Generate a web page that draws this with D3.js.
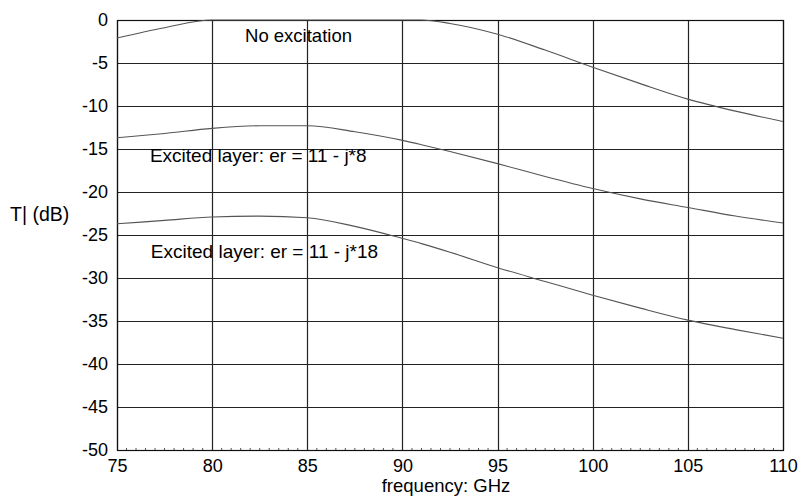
<!DOCTYPE html>
<html>
<head>
<meta charset="utf-8">
<script src="https://cdn.jsdelivr.net/npm/d3@7"></script>
<style>
  html, body { margin: 0; padding: 0; background: #fff; }
  svg { display: block; font-family: "Liberation Sans", Arial, sans-serif; }
</style>
</head>
<body>
<svg id="chart" width="800" height="500"></svg>
<script>
// Frequency samples (GHz)
const freq = [75, 77.5, 80, 82.5, 85, 87.5, 90, 91, 92.5, 95, 97.5, 100, 102.5, 105, 107.5, 110];

// |T| in dB for each case
const noExcitation = [-2.1, -0.9, 0, 0, 0, 0, 0, 0, -0.4, -1.65, -3.5, -5.5, -7.4, -9.2, -10.6, -11.8];
const excitedEr8   = [-13.7, -13.2, -12.6, -12.3, -12.3, -13.0, -14.0, -14.5, -15.3, -16.7, -18.2, -19.6, -20.8, -21.8, -22.8, -23.6];
const excitedEr18  = [-23.7, -23.3, -22.9, -22.8, -23.0, -24.0, -25.4, -26.0, -27.0, -28.8, -30.4, -32.0, -33.5, -34.9, -36.0, -37.0];

// Axis ticks
const xTicks = [75, 80, 85, 90, 95, 100, 105, 110];
const yTicks = [0, -5, -10, -15, -20, -25, -30, -35, -40, -45, -50];

// Curve annotations: text, font size and the (frequency, dB) anchor of its left baseline
const labels = ["No excitation", "Excited layer: er = 11 - j*8", "Excited layer: er = 11 - j*18"];
const labelSize = [18.5, 19, 19];
const labelFreq = [81.73, 76.73, 76.78];
const labelDb = [-2.5, -16.5, -27.7];

const svg = d3.select("#chart");
const plotLeft = 117, plotRight = 783, plotTop = 20, plotBottom = 450;

const x = d3.scaleLinear().domain([75, 110]).range([plotLeft, plotRight]);
const y = d3.scaleLinear().domain([-50, 0]).range([plotBottom, plotTop]);

const g = svg.append("g");

// Minor ticks along the bottom edge (every 0.5 GHz)
g.append("g").selectAll("line")
  .data(d3.range(75, 110.01, 0.5).filter(v => v % 5 !== 0))
  .join("line")
  .attr("x1", d => x(d)).attr("x2", d => x(d))
  .attr("y1", plotBottom).attr("y2", plotBottom - 2)
  .attr("stroke", "#555").attr("stroke-width", 1);

// Grid lines
g.append("g").selectAll("line")
  .data(xTicks)
  .join("line")
  .attr("x1", d => Math.round(x(d)) + 0.5).attr("x2", d => Math.round(x(d)) + 0.5)
  .attr("y1", plotTop).attr("y2", plotBottom)
  .attr("stroke", "#222").attr("stroke-width", 1.2);

g.append("g").selectAll("line")
  .data(yTicks)
  .join("line")
  .attr("x1", plotLeft).attr("x2", plotRight)
  .attr("y1", d => Math.round(y(d)) + 0.5).attr("y2", d => Math.round(y(d)) + 0.5)
  .attr("stroke", "#222").attr("stroke-width", 1.2);

// Frame
g.append("rect")
  .attr("x", plotLeft + 0.5).attr("y", plotTop + 0.5)
  .attr("width", plotRight - plotLeft).attr("height", plotBottom - plotTop)
  .attr("fill", "none").attr("stroke", "#111").attr("stroke-width", 1.2);

// Axes (labels only; grid drawn above). Plain hyphen for negatives.
const xAxis = d3.axisBottom(x).tickValues(xTicks).tickSize(0).tickPadding(9)
  .tickFormat(d => String(d));
const yAxis = d3.axisLeft(y).tickValues(yTicks).tickSize(0).tickPadding(9)
  .tickFormat(d => String(d));

const gx = svg.append("g").attr("transform", `translate(0,${plotBottom})`).call(xAxis);
const gy = svg.append("g").attr("transform", `translate(${plotLeft},0)`).call(yAxis);
[gx, gy].forEach(a => {
  a.select(".domain").remove();
  a.selectAll("text").attr("font-size", 18).attr("fill", "#000")
    .attr("font-family", "'Liberation Sans', Arial, sans-serif");
});

// Curves
const line = d3.line()
  .x(d => x(d[0]))
  .y(d => y(d[1]))
  .curve(d3.curveMonotoneX);

const series = [noExcitation, excitedEr8, excitedEr18];
svg.append("g").selectAll("path")
  .data(series)
  .join("path")
  .attr("d", vals => line(freq.map((f, i) => [f, vals[i]])))
  .attr("fill", "none")
  .attr("stroke", "#555")
  .attr("stroke-width", 1.1);

// Annotations
svg.append("g").selectAll("text")
  .data(labels)
  .join("text")
  .attr("x", (d, i) => x(labelFreq[i]))
  .attr("y", (d, i) => y(labelDb[i]))
  .attr("font-size", (d, i) => labelSize[i])
  .attr("fill", "#000")
  .text(d => d);

// Axis titles
svg.append("text")
  .attr("x", 446).attr("y", 492)
  .attr("text-anchor", "middle")
  .attr("font-size", 18.5)
  .text("frequency: GHz");

svg.append("text")
  .attr("x", 10).attr("y", 221)
  .attr("font-size", 19.5)
  .text("T| (dB)");
</script>
</body>
</html>
